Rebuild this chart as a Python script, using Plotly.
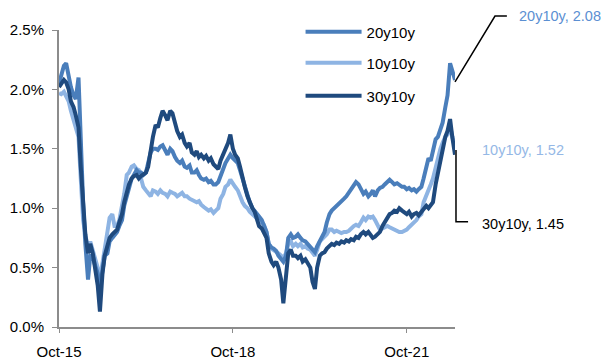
import pandas as pd
import plotly.graph_objects as go

# semi-monthly observation dates, Oct-2015 .. Aug-2022
dates = pd.date_range("2015-10-01", "2022-08-01", freq="SMS")

fwd_30y10y = [
    2.02, 2.05, 2.08, 2.06, 2.00, 1.90, 1.85, 1.78, 1.68, 1.35,
    1.00, 0.78, 0.62, 0.70, 0.62, 0.50, 0.35, 0.13, 0.45, 0.60,
    0.68, 0.75, 0.78, 0.80, 0.82, 0.88, 0.95, 1.05, 1.15, 1.20,
    1.25, 1.27, 1.28, 1.25, 1.27, 1.28, 1.30, 1.35, 1.50, 1.60,
    1.70, 1.68, 1.76, 1.82, 1.78, 1.74, 1.82, 1.80, 1.72, 1.65,
    1.60, 1.62, 1.55, 1.52, 1.55, 1.47, 1.45, 1.48, 1.43, 1.45,
    1.42, 1.44, 1.40, 1.42, 1.37, 1.35, 1.33, 1.40, 1.45, 1.48,
    1.55, 1.62, 1.50, 1.45, 1.42, 1.35, 1.25, 1.18, 1.10, 1.05,
    1.00, 0.97, 0.92, 0.85, 0.83, 0.80, 0.75, 0.62, 0.55, 0.52,
    0.55, 0.50, 0.40, 0.20, 0.45, 0.62, 0.65, 0.60, 0.60, 0.58,
    0.60, 0.55, 0.57, 0.53, 0.50, 0.38, 0.32, 0.50, 0.60, 0.62,
    0.63, 0.66, 0.68, 0.70, 0.69, 0.71, 0.70, 0.72, 0.71, 0.73,
    0.72, 0.74, 0.73, 0.76, 0.75, 0.78, 0.80, 0.78, 0.80, 0.77,
    0.75, 0.76, 0.78, 0.80, 0.85, 0.88, 0.93, 0.95, 0.96, 0.98,
    0.97, 1.00, 0.98, 0.97, 0.95, 0.97, 0.93, 0.95, 0.96, 0.94,
    0.97, 1.00, 1.02, 1.00, 1.02, 1.05, 1.20, 1.30, 1.42, 1.48,
    1.60, 1.65, 1.75, 1.60, 1.45,
]

fwd_20y10y = [
    2.05, 2.12, 2.20, 2.22, 2.10, 2.02, 1.95, 1.92, 2.10, 1.50,
    1.05, 0.70, 0.40, 0.60, 0.60, 0.52, 0.45, 0.32, 0.50, 0.60,
    0.62, 0.72, 0.75, 0.78, 0.80, 0.85, 0.90, 1.02, 1.10, 1.15,
    1.25, 1.28, 1.32, 1.30, 1.30, 1.28, 1.30, 1.38, 1.47, 1.50,
    1.50, 1.49, 1.52, 1.53, 1.48, 1.45, 1.50, 1.48, 1.43, 1.40,
    1.38, 1.40, 1.35, 1.34, 1.36, 1.30, 1.30, 1.32, 1.28, 1.25,
    1.24, 1.25, 1.22, 1.23, 1.20, 1.20, 1.22, 1.28, 1.33, 1.38,
    1.42, 1.45, 1.42, 1.40, 1.38, 1.32, 1.25, 1.18, 1.10, 1.05,
    1.00, 0.98, 0.96, 0.93, 0.90, 0.85, 0.80, 0.70, 0.67, 0.66,
    0.64, 0.60, 0.57, 0.55, 0.60, 0.75, 0.78, 0.75, 0.76, 0.78,
    0.75, 0.73, 0.72, 0.70, 0.68, 0.65, 0.63, 0.68, 0.72, 0.75,
    0.80, 0.88, 0.95, 0.98, 1.00, 1.02, 1.03, 1.05, 1.08, 1.10,
    1.13, 1.16, 1.20, 1.22, 1.20, 1.16, 1.12, 1.14, 1.10, 1.12,
    1.15, 1.10, 1.15, 1.17, 1.18, 1.20, 1.22, 1.24, 1.22, 1.20,
    1.21, 1.20, 1.18, 1.18, 1.16, 1.17, 1.15, 1.16, 1.14, 1.16,
    1.18, 1.25, 1.35, 1.42, 1.40, 1.48, 1.58, 1.60, 1.68, 1.72,
    1.85, 1.95, 2.22, 2.15, 2.08,
]

fwd_10y10y = [
    1.97, 1.96, 1.98, 1.95, 1.90, 1.82, 1.75, 1.68, 1.60, 1.25,
    0.90, 0.78, 0.65, 0.72, 0.65, 0.60, 0.50, 0.40, 0.55, 0.70,
    0.80, 0.92, 0.95, 0.85, 0.85, 0.90, 1.00, 1.12, 1.28, 1.30,
    1.35, 1.36, 1.33, 1.32, 1.25, 1.18, 1.15, 1.12, 1.10, 1.15,
    1.14, 1.12, 1.15, 1.13, 1.12, 1.10, 1.14, 1.13, 1.12, 1.10,
    1.12, 1.13, 1.10, 1.10, 1.08, 1.07, 1.06, 1.05, 1.06, 1.03,
    1.01, 1.00, 0.98, 0.99, 0.96, 0.98, 1.00, 1.08, 1.12, 1.18,
    1.20, 1.24, 1.20, 1.18, 1.15, 1.10, 1.05, 1.02, 1.00, 0.97,
    0.95, 0.93, 0.92, 0.90, 0.88, 0.86, 0.80, 0.70, 0.66, 0.65,
    0.63, 0.62, 0.60, 0.58, 0.62, 0.70, 0.72, 0.68, 0.70, 0.68,
    0.70, 0.67, 0.68, 0.66, 0.65, 0.62, 0.60, 0.65, 0.72, 0.74,
    0.76, 0.78, 0.82, 0.82, 0.80, 0.81, 0.80, 0.79, 0.80, 0.80,
    0.81, 0.83, 0.85, 0.86, 0.85, 0.88, 0.92, 0.90, 0.93, 0.92,
    0.93, 0.90, 0.85, 0.82, 0.83, 0.84, 0.85, 0.84, 0.83, 0.82,
    0.81, 0.80, 0.80, 0.81, 0.82, 0.84, 0.86, 0.88, 0.90, 0.93,
    0.95, 1.05, 1.10, 1.15, 1.20, 1.25, 1.35, 1.42, 1.50, 1.55,
    1.60, 1.62, 1.70, 1.60, 1.52,
]

tick_dates = ["2015-10-01", "2018-10-01", "2021-10-01"]
tick_labels = ["Oct-15", "Oct-18", "Oct-21"]

C_MED = "#4a7ebb"
C_LIGHT = "#8eb4e3"
C_DARK = "#1f4a7e"
FONT = "Liberation Sans, Arial, sans-serif"

fig = go.Figure()
fig.add_trace(go.Scatter(x=dates, y=fwd_10y10y, name="10y10y", mode="lines",
                         line=dict(color=C_LIGHT, width=4), legend="legend2"))
fig.add_trace(go.Scatter(x=dates, y=fwd_20y10y, name="20y10y", mode="lines",
                         line=dict(color=C_MED, width=4), legend="legend"))
fig.add_trace(go.Scatter(x=dates, y=fwd_30y10y, name="30y10y", mode="lines",
                         line=dict(color=C_DARK, width=4), legend="legend3"))

leg_common = dict(xanchor="left", yanchor="middle", bgcolor="rgba(0,0,0,0)",
                  font=dict(family=FONT, size=15, color="#000"), itemwidth=56,
                  borderwidth=0)

fig.update_layout(
    width=601, height=361,
    margin=dict(l=59, r=146, t=30, b=34),
    paper_bgcolor="white", plot_bgcolor="white",
    font=dict(family=FONT, size=15, color="#000"),
    showlegend=True,
    legend=dict(x=0.61, y=0.993, **leg_common),
    legend2=dict(x=0.61, y=0.889, **leg_common),
    legend3=dict(x=0.61, y=0.778, **leg_common),
    xaxis=dict(
        range=["2015-10-01", "2022-08-01"],
        tickvals=tick_dates, ticktext=tick_labels,
        showline=True, linecolor="#8c8c8c", linewidth=2,
        ticks="outside", ticklen=4, tickcolor="#8c8c8c", tickwidth=1,
        showgrid=False, zeroline=False, ticklabelstandoff=6,
        automargin=False,
        tickfont=dict(family=FONT, size=15, color="#000"),
    ),
    yaxis=dict(
        range=[0, 2.5], dtick=0.5, tickformat=".1f", ticksuffix="%",
        showline=True, linecolor="#8c8c8c", linewidth=2,
        ticks="outside", ticklen=5, tickcolor="#8c8c8c", tickwidth=1,
        showgrid=False, zeroline=False, ticklabelstandoff=5,
        automargin=False,
        tickfont=dict(family=FONT, size=15, color="#000"),
    ),
    shapes=[
        dict(type="path", xref="paper", yref="paper",
             path="M 1.0,0.825 L 1.101,1.047 L 1.131,1.047",
             line=dict(color="black", width=1.5)),
        dict(type="path", xref="paper", yref="paper",
             path="M 1.0025,0.596 L 1.0025,0.354 L 1.033,0.354",
             line=dict(color="black", width=1.5)),
    ],
    annotations=[
        dict(xref="paper", yref="paper", x=1.157, y=1.047, xanchor="left", yanchor="middle",
             text=f"20y10y, {fwd_20y10y[-1]:.2f}", showarrow=False,
             font=dict(family=FONT, size=14.5, color="#5b8fd2")),
        dict(xref="paper", yref="paper", x=1.063, y=0.596, xanchor="left", yanchor="middle",
             text=f"10y10y, {fwd_10y10y[-1]:.2f}", showarrow=False,
             font=dict(family=FONT, size=14.5, color="#95b8e6")),
        dict(xref="paper", yref="paper", x=1.063, y=0.347, xanchor="left", yanchor="middle",
             text=f"30y10y, {fwd_30y10y[-1]:.2f}", showarrow=False,
             font=dict(family=FONT, size=14.5, color="#000")),
    ],
)

fig.write_html("out.html")
